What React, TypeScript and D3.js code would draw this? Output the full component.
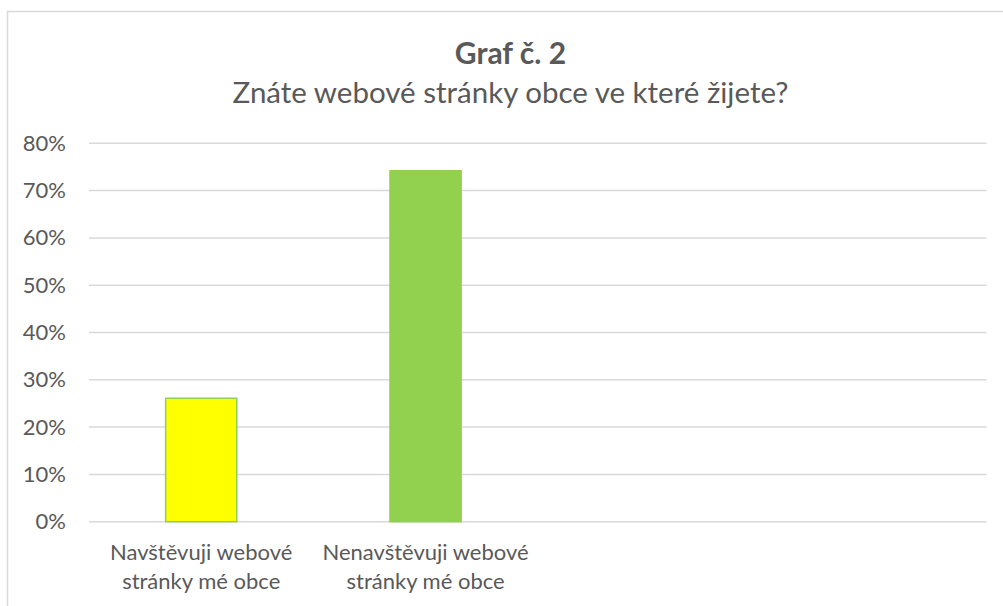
import React, { useEffect, useRef } from "react";
import * as d3 from "d3";

const title = "Graf č. 2";
const subtitle = "Znáte webové stránky obce ve které žijete?";
// four category slots, the last two are empty in the original chart
const categories = [
  "Navštěvuji webové\nstránky mé obce",
  "Nenavštěvuji webové\nstránky mé obce",
  "",
  "",
];
const values = [26.1, 74.2, null, null];
const barColors = ["#FFFF00", "#92D050", "#92D050", "#92D050"];
const tickValues = [0, 10, 20, 30, 40, 50, 60, 70, 80];

const W = 1003;
const H = 606;
const FONT = "Lato, 'Open Sans', sans-serif";
const TEXT = "#595959";

const App = () => {
  const svgRef = useRef(null);

  useEffect(() => {
    const svg = d3.select(svgRef.current);
    svg.selectAll("*").remove();

    // chart frame
    svg
      .append("rect")
      .attr("x", 7.5)
      .attr("y", 11.5)
      .attr("width", 1010)
      .attr("height", 620)
      .attr("fill", "#fff")
      .attr("stroke", "#d9d9d9")
      .attr("stroke-width", 1.5);

    const left = 89;
    const right = 986.5;
    const top = 143.3;
    const bottom = 521.7;

    const xScale = d3
      .scaleBand()
      .domain(categories.map((_, i) => String(i)))
      .range([left, right])
      .paddingInner(0.683)
      .paddingOuter(0.683 / 2);

    const yScale = d3.scaleLinear().domain([0, 80]).range([bottom, top]);

    // gridlines
    svg
      .append("g")
      .selectAll("line")
      .data(tickValues)
      .join("line")
      .attr("x1", left)
      .attr("x2", right)
      .attr("y1", (d) => yScale(d))
      .attr("y2", (d) => yScale(d))
      .attr("stroke", "#d9d9d9")
      .attr("stroke-width", 1.5);

    // y axis labels
    const yAxis = d3
      .axisLeft(yScale)
      .tickValues(tickValues)
      .tickSize(0)
      .tickPadding(0)
      .tickFormat((d) => `${d}%`);
    const yG = svg
      .append("g")
      .attr("transform", `translate(66,0)`)
      .call(yAxis);
    yG.select(".domain").remove();
    yG.selectAll("text")
      .attr("font-family", FONT)
      .attr("font-size", 22)
      .attr("fill", TEXT);

    // bars
    svg
      .append("g")
      .selectAll("rect")
      .data(values.map((v, i) => ({ v, i })).filter((d) => d.v !== null))
      .join("rect")
      .attr("x", (d) => xScale(String(d.i)))
      .attr("width", xScale.bandwidth())
      .attr("y", (d) => yScale(d.v))
      .attr("height", (d) => bottom - yScale(d.v))
      .attr("fill", (d) => barColors[d.i])
      .attr("stroke", "#92D050")
      .attr("stroke-width", 1.5);

    // category labels
    const cat = svg
      .append("g")
      .selectAll("text")
      .data(categories)
      .join("text")
      .attr("x", (_, i) => xScale(String(i)) + xScale.bandwidth() / 2)
      .attr("y", 560)
      .attr("text-anchor", "middle")
      .attr("font-family", FONT)
      .attr("font-size", 22)
      .attr("fill", TEXT);
    cat
      .selectAll("tspan")
      .data((d) => (d ? d.split("\n") : []))
      .join("tspan")
      .attr("x", function () {
        return d3.select(this.parentNode).attr("x");
      })
      .attr("dy", (_, i) => (i === 0 ? 0 : 29))
      .text((d) => d);

    // titles
    svg
      .append("text")
      .attr("x", 510.5)
      .attr("y", 64)
      .attr("text-anchor", "middle")
      .attr("font-family", FONT)
      .attr("font-weight", "bold")
      .attr("font-size", 30)
      .attr("fill", TEXT)
      .text(title);
    svg
      .append("text")
      .attr("x", 510.5)
      .attr("y", 102.5)
      .attr("text-anchor", "middle")
      .attr("font-family", FONT)
      .attr("font-size", 29.5)
      .attr("fill", TEXT)
      .text(subtitle);
  }, []);

  return (
    <svg
      ref={svgRef}
      width={W}
      height={H}
      style={{ position: "absolute", left: 0, top: 0, background: "#fff" }}
    />
  );
};

export default App;
